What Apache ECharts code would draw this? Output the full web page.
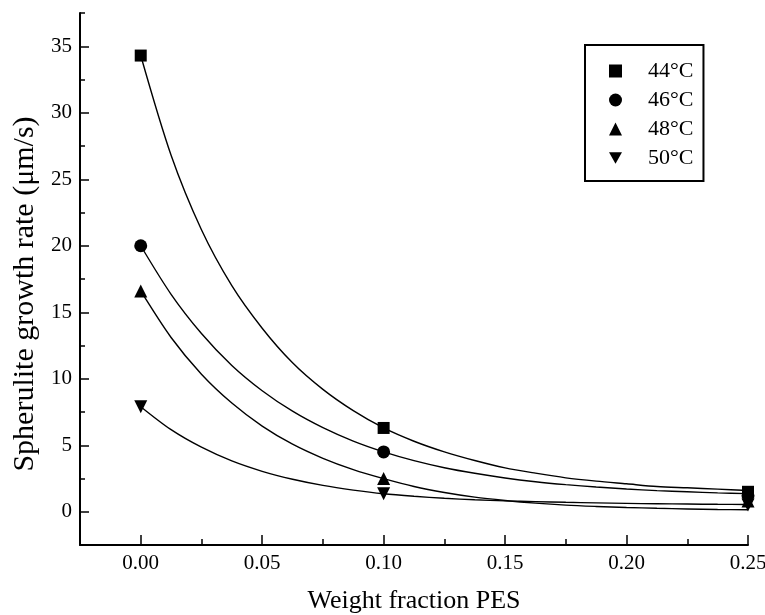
<!DOCTYPE html>
<html>
<head>
<meta charset="utf-8">
<script src="https://cdn.jsdelivr.net/npm/echarts@6/dist/echarts.min.js"></script>
<style>html,body{margin:0;padding:0;background:#fff}#c{width:765px;height:615px}</style>
</head>
<body>
<div id="c"></div>
<script>
// ---- data ----
const seriesNames = ['44°C', '46°C', '48°C', '50°C'];
const xPoints = [0.00, 0.10, 0.25];
const pts44 = [34.3, 6.3, 1.5];
const pts46 = [20.0, 4.5, 1.2];
const pts48 = [16.6, 2.5, 0.8];
const pts50 = [7.9, 1.35, 0.5];
// fitted curves
const curveX = [0, 0.0125, 0.025, 0.0375, 0.05, 0.0625, 0.075, 0.0875, 0.1, 0.1125, 0.125, 0.1375, 0.15, 0.1625, 0.175, 0.1875, 0.2, 0.2125, 0.225, 0.2375, 0.25];
const fit44 = [34.3, 26.8, 21.2, 17.0, 13.8, 11.2, 9.2, 7.6, 6.3, 5.3, 4.5, 3.85, 3.3, 2.9, 2.55, 2.3, 2.1, 1.9, 1.8, 1.7, 1.6];
const fit46 = [20.0, 16.35, 13.4, 11.0, 9.1, 7.56, 6.32, 5.31, 4.5, 3.84, 3.31, 2.89, 2.54, 2.26, 2.04, 1.86, 1.71, 1.59, 1.5, 1.42, 1.36];
const fit48 = [16.6, 13.1, 10.34, 8.17, 6.44, 5.08, 4.02, 3.17, 2.49, 1.9, 1.45, 1.1, 0.85, 0.65, 0.5, 0.4, 0.32, 0.26, 0.21, 0.17, 0.15];
const fit50 = [7.9, 6.17, 4.85, 3.82, 3.04, 2.44, 1.98, 1.63, 1.35, 1.16, 1.01, 0.9, 0.82, 0.76, 0.71, 0.67, 0.63, 0.6, 0.58, 0.56, 0.55];
const xMajorTicks = [0, 0.05, 0.10, 0.15, 0.20, 0.25];
const xMinorTicks = [0.025, 0.075, 0.125, 0.175, 0.225];
const yMajorTicks = [0, 5, 10, 15, 20, 25, 30, 35];
const yMinorTicks = [2.5, 7.5, 12.5, 17.5, 22.5, 27.5, 32.5, 37.5];

const FONT = '"Liberation Serif", "DejaVu Serif", serif';
const symbols = ['rect', 'circle', 'triangle', 'path://M0,0 L10,0 L5,9 Z'];
const pts = [pts44, pts46, pts48, pts50];
const fits = [fit44, fit46, fit48, fit50];

const series = [];
fits.forEach((f, i) => {
  series.push({
    type: 'line', xAxisIndex: 0, yAxisIndex: 0, smooth: 0.3, showSymbol: false, silent: true,
    lineStyle: { color: '#000', width: 1.4 },
    data: curveX.map((x, j) => [x, f[j]])
  });
});
pts.forEach((p, i) => {
  series.push({
    type: 'scatter', name: seriesNames[i], xAxisIndex: 0, yAxisIndex: 0,
    symbol: symbols[i], symbolSize: i === 0 ? 12 : 13,
    itemStyle: { color: '#000', opacity: 1 },
    data: xPoints.map((x, j) => [x, p[j]]), z: 5
  });
});

const baseX = { type: 'value', min: -0.025, max: 0.25, splitLine: { show: false } };
const baseY = { type: 'value', min: -2.5, max: 37.5, splitLine: { show: false } };

const option = {
  animation: false,
  backgroundColor: '#fff',
  grid: { left: 80, right: 17, top: 13, bottom: 70, containLabel: false, outerBoundsMode: 'none' },
  legend: {
    data: seriesNames, orient: 'vertical', left: 585, top: 45,
    padding: [15, 10, 12, 24], itemGap: 7, itemWidth: 13, itemHeight: 13,
    borderColor: '#000', borderWidth: 2, borderRadius: 0,
    textStyle: { fontFamily: FONT, fontSize: 22, color: '#000', padding: [0, 0, 0, 21] },
    itemStyle: { color: '#000', opacity: 1 }
  },
  xAxis: [
    Object.assign({}, baseX, {
      name: 'Weight fraction PES', nameLocation: 'middle', nameGap: 43,
      nameTextStyle: { fontFamily: FONT, fontSize: 26, color: '#000' },
      axisLine: { onZero: false, lineStyle: { color: '#000', width: 2 } },
      axisTick: { inside: true, length: 10, lineStyle: { color: '#000', width: 1.5 }, customValues: xMajorTicks },
      axisLabel: { customValues: xMajorTicks, fontFamily: FONT, fontSize: 21, color: '#000', margin: 8,
        formatter: v => v.toFixed(2) }
    }),
    Object.assign({}, baseX, {
      position: 'bottom',
      axisLine: { show: false, onZero: false },
      axisTick: { inside: true, length: 6, lineStyle: { color: '#000', width: 1.5 }, customValues: xMinorTicks },
      axisLabel: { show: false }
    })
  ],
  yAxis: [
    Object.assign({}, baseY, {
      name: 'Spherulite growth rate (\u03bcm/s)', nameLocation: 'middle', nameGap: 40,
      nameTextStyle: { fontFamily: FONT, fontSize: 30, color: '#000', padding: [0, 30, 0, 0] },
      axisLine: { onZero: false, lineStyle: { color: '#000', width: 2 } },
      axisTick: { inside: true, length: 9, lineStyle: { color: '#000', width: 1.5 }, customValues: yMajorTicks },
      axisLabel: { customValues: yMajorTicks, fontFamily: FONT, fontSize: 21, color: '#000', margin: 8 }
    }),
    Object.assign({}, baseY, {
      position: 'left',
      axisLine: { show: false, onZero: false },
      axisTick: { inside: true, length: 5, lineStyle: { color: '#000', width: 1.5 }, customValues: yMinorTicks },
      axisLabel: { show: false }
    })
  ],
  series: series
};
echarts.init(document.getElementById('c'), null, { renderer: 'canvas' }).setOption(option);
</script>
</body>
</html>
